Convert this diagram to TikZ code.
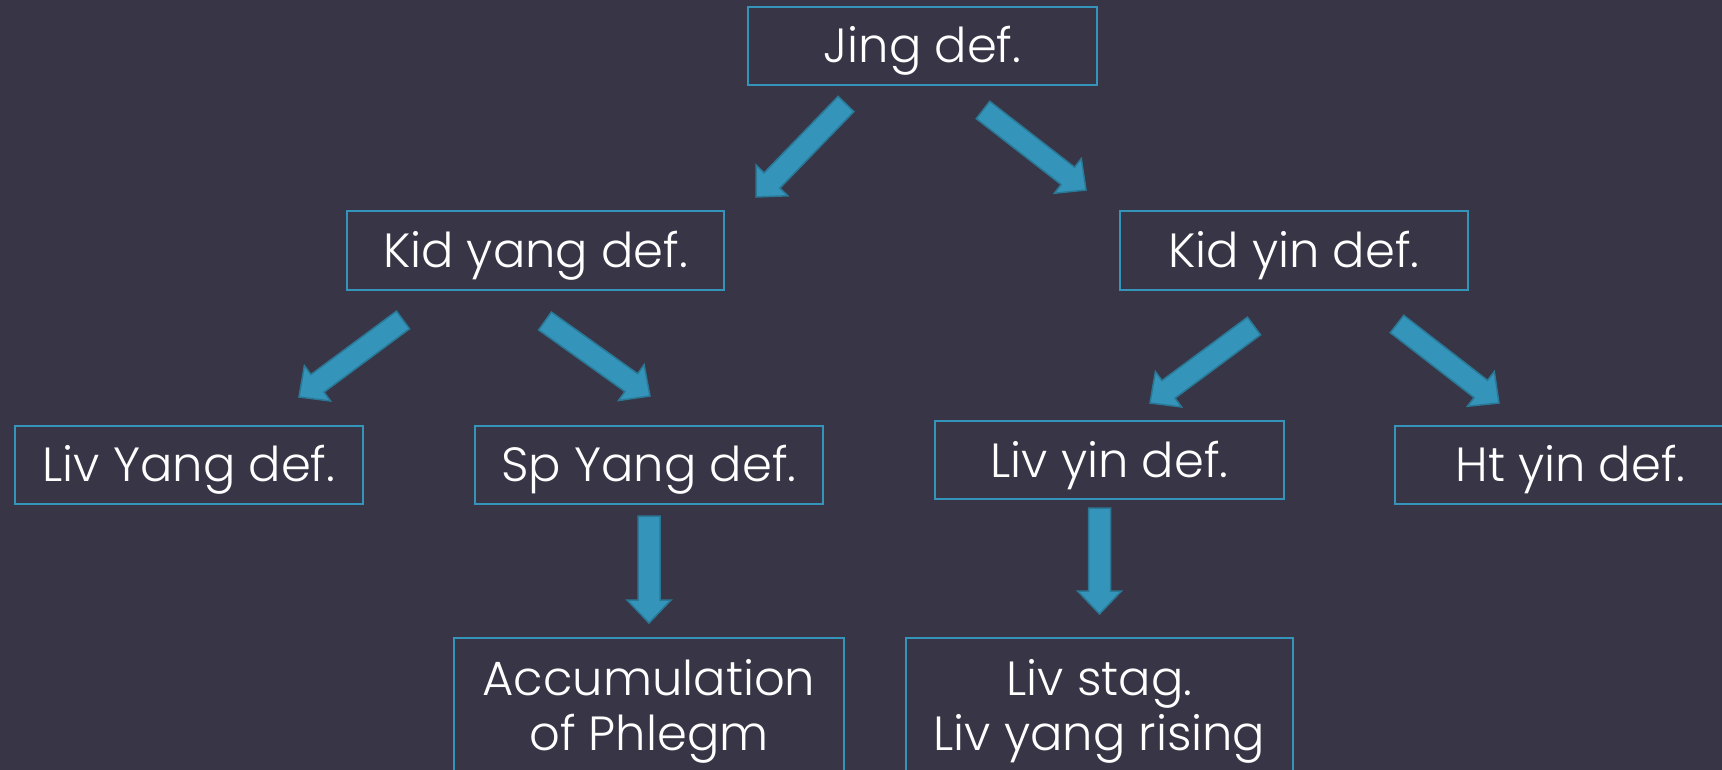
\documentclass[tikz,border=0pt]{standalone}
\usepackage{fontspec}
\setmainfont{Poppins Light}
\usepackage{tikz}
\usetikzlibrary{calc}
\definecolor{bgcol}{HTML}{383546}
\definecolor{boxline}{HTML}{3494BA}
\definecolor{arrowfill}{HTML}{3494BA}
\definecolor{arrowline}{HTML}{2A7896}
\tikzstyle{defbox} = [draw=boxline, line width=2pt, text=white, rectangle,
    minimum height=78pt, inner sep=0pt, text height=34pt, text depth=0pt,
    font=\fontsize{48}{55}\selectfont]
\tikzstyle{tallbox} = [draw=boxline, line width=2pt, text=white, rectangle,
    anchor=north, inner xsep=0pt, inner ysep=21pt, align=center,
    font=\fontsize{48}{55}\selectfont]
\tikzstyle{blockarrow} = [fill=arrowfill, draw=arrowline, line width=1.5pt, line join=miter]
% block arrow from tail #1 to tip #2
\newcommand{\fatarrow}[2]{%
    \coordinate (h) at ($(#2)!23pt!(#1)$);
    \path[blockarrow] ($(#1)!11pt!90:(#2)$) -- ($(h)!11pt!90:(#2)$) -- ($(h)!22pt!90:(#2)$)
        -- (#2) -- ($(h)!22pt!-90:(#2)$) -- ($(h)!11pt!-90:(#2)$) -- ($(#1)!11pt!-90:(#2)$) -- cycle;
}

\begin{document}
\begin{tikzpicture}[x=1pt, y=-1pt]
                \fill[bgcol] (0,0) rectangle (1722,770);
                \useasboundingbox (0,0) rectangle (1722,770);

                \node [defbox, minimum width=349pt] (jing) at (922.5,46) {Jing def.};
                \node [defbox, minimum width=377pt] (kidyang) at (535.5,250.5) {Kid yang def.};
                \node [defbox, minimum width=348pt] (kidyin) at (1294,250.5) {Kid yin def.};
                \node [defbox, minimum width=348pt] (livyang) at (189,464.5) {Liv Yang def.};
                \node [defbox, minimum width=348pt] (spyang) at (649,464.5) {Sp Yang def.};
                \node [defbox, minimum width=349pt] (livyin) at (1109.5,460) {Liv yin def.};
                \node [defbox, minimum width=351pt] (htyin) at (1570.5,464.5) {Ht yin def.};
                \node [tallbox, minimum width=390pt] (accum) at (649,637) {Accumulation\\of Phlegm};
                \node [tallbox, minimum width=387pt] (livstag) at (1099.5,637) {Liv stag.\\Liv yang rising};

                % arrow ends
                \coordinate (t1) at (846,104);    \coordinate (p1) at (756,197);
                \coordinate (t2) at (983,110);    \coordinate (p2) at (1086,190);
                \coordinate (t3) at (403,320);    \coordinate (p3) at (299,397);
                \coordinate (t4) at (545,321);    \coordinate (p4) at (650,396);
                \coordinate (t5) at (1254,326);   \coordinate (p5) at (1150,403);
                \coordinate (t6) at (1397,324);   \coordinate (p6) at (1499,403);
                \coordinate (t7) at (649,516);    \coordinate (p7) at (649,623);
                \coordinate (t8) at (1099.5,508); \coordinate (p8) at (1099.5,614);
                \foreach \i in {1,...,8} {\fatarrow{t\i}{p\i}}
            \end{tikzpicture}
\end{document}
